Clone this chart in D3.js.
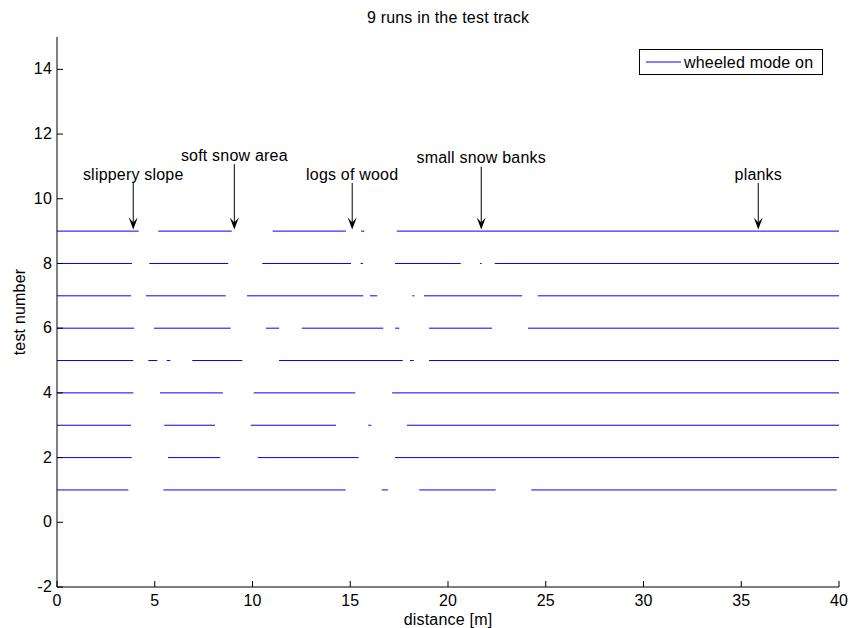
<!DOCTYPE html>
<html>
<head>
<meta charset="utf-8">
<script src="https://cdn.jsdelivr.net/npm/d3@7"></script>
<style>
  body { margin: 0; background: #fff; }
  svg { display: block; }
  text { font-family: "Liberation Sans", Arial, sans-serif; fill: #000; letter-spacing: 0.2px; }
</style>
</head>
<body>
<svg id="chart" width="849" height="628"></svg>
<script>
// Intervals (start, end in metres) where wheeled mode was on, one list per test run
const run1 = [[0, 3.65], [5.44, 14.77], [16.61, 16.93], [18.53, 22.44], [24.26, 39.88]];
const run2 = [[0, 3.82], [5.68, 8.35], [10.28, 15.43], [17.29, 40]];
const run3 = [[0, 3.79], [5.49, 8.08], [9.92, 14.27], [15.92, 16.08], [17.90, 40]];
const run4 = [[0, 3.90], [5.27, 8.48], [10.06, 15.26], [17.14, 40]];
const run5 = [[0, 3.90], [4.67, 5.13], [5.61, 5.80], [6.92, 9.48], [11.36, 17.68], [18.06, 18.25], [19.03, 40]];
const run6 = [[0, 3.95], [4.96, 8.88], [10.69, 11.36], [12.52, 16.69], [17.29, 17.51], [19.03, 22.25], [24.09, 40]];
const run7 = [[0, 3.79], [4.55, 8.63], [9.72, 15.67], [16.01, 16.38], [18.17, 18.28], [18.77, 23.79], [24.59, 40]];
const run8 = [[0, 3.84], [4.72, 8.76], [10.50, 15.04], [15.53, 15.65], [17.29, 20.65], [21.64, 21.72], [22.39, 40]];
const run9 = [[0, 4.18], [5.18, 8.94], [11.03, 14.78], [15.55, 15.72], [17.38, 40]];
const runs = [run1, run2, run3, run4, run5, run6, run7, run8, run9];

// Obstacles along the track: label, position [m], label height and arrow head height (test-number units)
const obstacleLabels = ["slippery slope", "soft snow area", "logs of wood", "small snow banks", "planks"];
const obstacleX = [3.90, 9.07, 15.10, 21.70, 35.87];
const obstacleTextY = [10.58, 11.17, 10.58, 11.11, 10.58];
const obstacleTailY = [10.49, 11.07, 10.49, 10.99, 10.49];
const obstacleHeadY = 9.05;

const xTicks = [0, 5, 10, 15, 20, 25, 30, 35, 40];
const yTicks = [-2, 0, 2, 4, 6, 8, 10, 12, 14];

const titleText = "9 runs in the test track";
const xLabel = "distance [m]";
const yLabel = "test number";
const legendLabel = "wheeled mode on";

const svg = d3.select("#chart");
const x = d3.scaleLinear().domain([0, 40]).range([57, 839]);
const y = d3.scaleLinear().domain([-2, 15]).range([587, 37]);
const lineColor = "#0000ff";
const fontSize = 16;
const plain = d => String(d);

// wheeled-mode segments
const segs = [];
runs.forEach((r, i) => r.forEach(s => segs.push({ run: i + 1, a: s[0], b: s[1] })));
svg.append("g").selectAll("line").data(segs).join("line")
  .attr("x1", d => x(d.a)).attr("x2", d => x(d.b))
  .attr("y1", d => y(d.run)).attr("y2", d => y(d.run))
  .attr("stroke", lineColor).attr("stroke-width", 1);

// axes (left and bottom only)
const gx = svg.append("g").attr("transform", `translate(0,${y(-2)})`)
  .call(d3.axisBottom(x).tickValues(xTicks).tickFormat(plain)
    .tickSizeInner(-6).tickSizeOuter(0).tickPadding(8).offset(0));
const gy = svg.append("g").attr("transform", `translate(${x(0)},0)`)
  .call(d3.axisLeft(y).tickValues(yTicks).tickFormat(plain)
    .tickSizeInner(-6).tickSizeOuter(0).tickPadding(5).offset(0));
[gx, gy].forEach(g => {
  g.selectAll("text").attr("font-size", fontSize).attr("font-family", null);
  g.selectAll("line").attr("stroke", "#000");
  g.select(".domain").attr("stroke", "#000");
});

// title and axis labels
svg.append("text").attr("x", 448).attr("y", 23).attr("text-anchor", "middle")
  .attr("font-size", fontSize).text(titleText);
svg.append("text").attr("x", 448).attr("y", 625).attr("text-anchor", "middle")
  .attr("font-size", fontSize).text(xLabel);
svg.append("text").attr("transform", "translate(25,312) rotate(-90)").attr("text-anchor", "middle")
  .attr("font-size", fontSize).text(yLabel);

// obstacle annotations with arrows
const ann = svg.append("g");
obstacleLabels.forEach((lab, i) => {
  const px = x(obstacleX[i]);
  const tipY = y(obstacleHeadY);
  ann.append("text").attr("x", px).attr("y", y(obstacleTextY[i])).attr("text-anchor", "middle")
    .attr("font-size", fontSize).text(lab);
  ann.append("line").attr("x1", px).attr("x2", px)
    .attr("y1", y(obstacleTailY[i])).attr("y2", tipY - 4)
    .attr("stroke", "#000").attr("stroke-width", 1);
  ann.append("path")
    .attr("d", `M${px},${tipY} L${px - 4.5},${tipY - 12} L${px},${tipY - 7} L${px + 4.5},${tipY - 12} Z`)
    .attr("fill", "#000");
});

// legend
const lg = svg.append("g");
lg.append("rect").attr("x", 639.5).attr("y", 49.5).attr("width", 183).attr("height", 25)
  .attr("fill", "#fff").attr("stroke", "#000").attr("stroke-width", 1);
lg.append("line").attr("x1", 646).attr("x2", 681).attr("y1", 62).attr("y2", 62)
  .attr("stroke", lineColor).attr("stroke-width", 1);
lg.append("text").attr("x", 684).attr("y", 68).attr("font-size", fontSize).text(legendLabel);
</script>
</body>
</html>
